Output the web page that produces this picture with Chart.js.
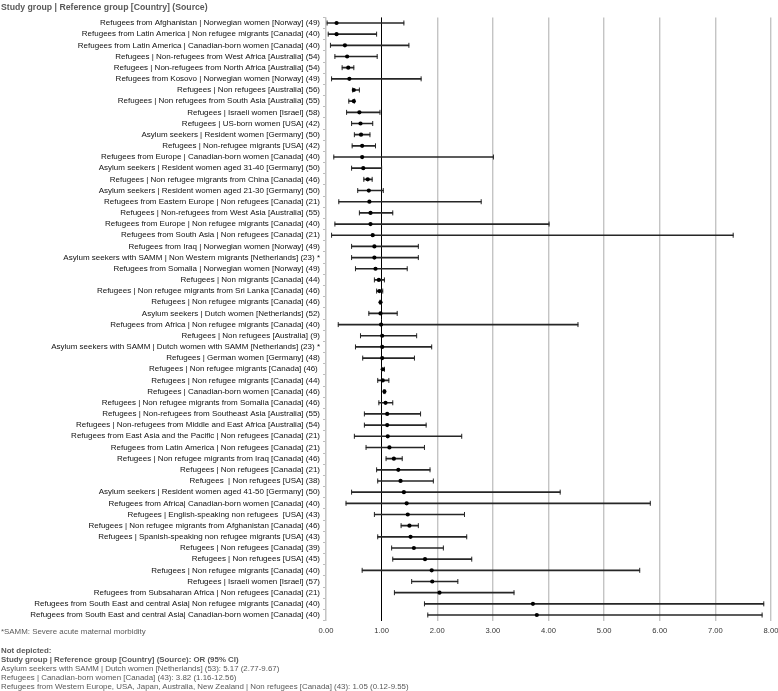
<!DOCTYPE html>
<html>
<head>
<meta charset="utf-8">
<script src="https://cdn.jsdelivr.net/npm/chart.js@4.4.1/dist/chart.umd.min.js"></script>
<style>
  body { margin: 0; background: #fff; width: 778px; height: 691px; overflow: hidden; position: relative; }
  #wrap { position: absolute; left: 0; top: 0; width: 778px; height: 642px; }
  .note { position: absolute; left: 1px; color: #595959; white-space: nowrap; font-size: 7.9px; line-height: 9px; }
  .b { font-weight: bold; }
</style>
</head>
<body>
<div id="wrap"><canvas id="forest" width="778" height="642"></canvas></div>
<div class="note b" id="title" style="top:3px;font-size:9px;">Study group | Reference group [Country] (Source)</div>
<div class="note" style="top:627px;">*SAMM: Severe acute maternal morbidity</div>
<div class="note" style="top:646px;">
  <div class="b">Not depicted:</div>
  <div class="b">Study group | Reference group [Country] (Source): OR (95% CI)</div>
  <div>Asylum seekers with SAMM | Dutch women [Netherlands] (53): 5.17 (2.77-9.67)</div>
  <div>Refugees | Canadian-born women [Canada] (43): 3.82 (1.16-12.56)</div>
  <div>Refugees from Western Europe, USA, Japan, Australia, New Zealand | Non refugees [Canada] (43): 1.05 (0.12-9.55)</div>
</div>
<script>
// rows, top to bottom
const studyLabels = [
  'Refugees from Afghanistan | Norwegian women [Norway] (49)',
  'Refugees from Latin America | Non refugee migrants [Canada] (40)',
  'Refugees from Latin America | Canadian-born women [Canada] (40)',
  'Refugees | Non-refugees from West Africa [Australia] (54)',
  'Refugees | Non-refugees from North Africa [Australia] (54)',
  'Refugees from Kosovo | Norwegian women [Norway] (49)',
  'Refugees | Non refugees [Australia] (56)',
  'Refugees | Non refugees from South Asia [Australia] (55)',
  'Refugees | Israeli women [Israel] (58)',
  'Refugees | US-born women [USA] (42)',
  'Asylum seekers | Resident women [Germany] (50)',
  'Refugees | Non-refugee migrants [USA] (42)',
  'Refugees from Europe | Canadian-born women [Canada] (40)',
  'Asylum seekers | Resident women aged 31-40 [Germany] (50)',
  'Refugees | Non refugee migrants from China [Canada] (46)',
  'Asylum seekers | Resident women aged 21-30 [Germany] (50)',
  'Refugees from Eastern Europe | Non refugees [Canada] (21)',
  'Refugees | Non-refugees from West Asia [Australia] (55)',
  'Refugees from Europe | Non refugee migrants [Canada] (40)',
  'Refugees from South Asia | Non refugees [Canada] (21)',
  'Refugees from Iraq | Norwegian women [Norway] (49)',
  'Asylum seekers with SAMM | Non Western migrants [Netherlands] (23) *',
  'Refugees from Somalia | Norwegian women [Norway] (49)',
  'Refugees | Non migrants [Canada] (44)',
  'Refugees | Non refugee migrants from Sri Lanka [Canada] (46)',
  'Refugees | Non refugee migrants [Canada] (46)',
  'Asylum seekers | Dutch women [Netherlands] (52)',
  'Refugees from Africa | Non refugee migrants [Canada] (40)',
  'Refugees | Non refugees [Australia] (9)',
  'Asylum seekers with SAMM | Dutch women with SAMM [Netherlands] (23) *',
  'Refugees | German women [Germany] (48)',
  'Refugees | Non refugee migrants [Canada] (46) ',
  'Refugees | Non refugee migrants [Canada] (44)',
  'Refugees | Canadian-born women [Canada] (46)',
  'Refugees | Non refugee migrants from Somalia [Canada] (46)',
  'Refugees | Non-refugees from Southeast Asia [Australia] (55)',
  'Refugees | Non-refugees from Middle and East Africa [Australia] (54)',
  'Refugees from East Asia and the Pacific | Non refugees [Canada] (21)',
  'Refugees from Latin America | Non refugees [Canada] (21)',
  'Refugees | Non refugee migrants from Iraq [Canada] (46)',
  'Refugees | Non refugees [Canada] (21)',
  'Refugees  | Non refugees [USA] (38)',
  'Asylum seekers | Resident women aged 41-50 [Germany] (50)',
  'Refugees from Africa| Canadian-born women [Canada] (40)',
  'Refugees | English-speaking non refugees  [USA] (43)',
  'Refugees | Non refugee migrants from Afghanistan [Canada] (46)',
  'Refugees | Spanish-speaking non refugee migrants [USA] (43)',
  'Refugees | Non refugees [Canada] (39)',
  'Refugees | Non refugees [USA] (45)',
  'Refugees | Non refugee migrants [Canada] (40)',
  'Refugees | Israeli women [Israel] (57)',
  'Refugees from Subsaharan Africa | Non refugees [Canada] (21)',
  'Refugees from South East and central Asia| Non refugee migrants [Canada] (40)',
  'Refugees from South East and central Asia| Canadian-born women [Canada] (40)'
];

const oddsRatio = [0.19, 0.19, 0.34, 0.38, 0.40, 0.42, 0.50, 0.50, 0.60, 0.62,
                   0.63, 0.65, 0.65, 0.67, 0.75, 0.77, 0.78, 0.80, 0.80, 0.84,
                   0.87, 0.87, 0.89, 0.95, 0.96, 0.98, 0.98, 0.99, 1.01, 1.01,
                   1.01, 1.02, 1.02, 1.05, 1.07, 1.10, 1.10, 1.11, 1.14, 1.22,
                   1.30, 1.34, 1.40, 1.45, 1.47, 1.50, 1.52, 1.58, 1.78, 1.90,
                   1.91, 2.04, 3.72, 3.79];
const ciLow = [0.02, 0.04, 0.08, 0.16, 0.29, 0.10, 0.48, 0.41, 0.37, 0.46,
               0.51, 0.47, 0.14, 0.46, 0.68, 0.57, 0.23, 0.60, 0.16, 0.10,
               0.46, 0.46, 0.53, 0.87, 0.91, 0.97, 0.77, 0.22, 0.62, 0.53,
               0.66, 1.00, 0.93, 1.04, 0.95, 0.69, 0.69, 0.51, 0.72, 1.08,
               0.91, 0.93, 0.46, 0.36, 0.87, 1.35, 0.93, 1.18, 1.20, 0.65,
               1.54, 1.23, 1.77, 1.83];
const ciHigh = [1.40, 0.91, 1.49, 0.92, 0.50, 1.71, 0.60, 0.51, 0.97, 0.84,
                0.79, 0.89, 3.01, 1.00, 0.83, 1.03, 2.79, 1.20, 4.01, 7.32,
                1.66, 1.66, 1.46, 1.05, 1.02, 0.99, 1.28, 4.53, 1.63, 1.90,
                1.59, 1.05, 1.13, 1.06, 1.20, 1.70, 1.80, 2.44, 1.77, 1.37,
                1.87, 1.93, 4.21, 5.83, 2.49, 1.66, 2.53, 2.11, 2.62, 5.64,
                2.37, 3.38, 7.87, 7.84];
const xTicks = [0, 1, 2, 3, 4, 5, 6, 7, 8];

// narrow font if the box has it, else plain Liberation Sans a bit smaller
function hasFont(name) {
    const c = document.createElement('canvas').getContext('2d');
    c.font = '20px monospace';
    const w = c.measureText('Refugees from Afghanistan').width;
    c.font = `20px "${name}", monospace`;
    return c.measureText('Refugees from Afghanistan').width !== w;
}
const narrow = hasFont('Liberation Sans Narrow');
const FAMILY = narrow ? '"Liberation Sans Narrow", "Liberation Sans", sans-serif' : '"Liberation Sans", Arial, sans-serif';
const LABEL_SIZE = narrow ? 9.6 : 8;
document.querySelectorAll('.note').forEach(el => el.style.fontFamily = FAMILY);
if (!narrow) document.getElementById('title').style.fontSize = '8.7px';

const toPoints = arr => arr.map((v, i) => ({ x: v, y: studyLabels[i] }));

new Chart(document.getElementById('forest'), {
    type: 'bar',
    data: {
        labels: studyLabels,
        datasets: [
            {
                type: 'scatter',
                data: toPoints(oddsRatio),
                pointStyle: 'circle',
                pointRadius: 2.1,
                backgroundColor: '#000',
                borderColor: '#000',
                borderWidth: 0
            },
            {
                type: 'scatter',
                data: toPoints(ciLow),
                pointStyle: 'line',
                rotation: 90,
                pointRadius: 2.5,
                borderColor: '#262626',
                borderWidth: 1
            },
            {
                type: 'scatter',
                data: toPoints(ciHigh),
                pointStyle: 'line',
                rotation: 90,
                pointRadius: 2.5,
                borderColor: '#262626',
                borderWidth: 1
            },
            {
                data: ciLow.map((lo, i) => [lo, ciHigh[i]]),
                backgroundColor: '#262626',
                borderWidth: 0,
                barThickness: 1
            }
        ]
    },
    options: {
        indexAxis: 'y',
        responsive: false,
        animation: false,
        events: [],
        layout: { padding: { top: 17.4, left: 0, right: 7, bottom: 0 } },
        plugins: { legend: { display: false }, tooltip: { enabled: false } },
        scales: {
            x: {
                type: 'linear',
                min: 0,
                max: 8,
                afterBuildTicks: s => { s.ticks = xTicks.map(v => ({ value: v })); },
                afterFit: s => { s.height = 21.4; s.paddingRight = 0; },
                border: { display: false },
                grid: {
                    drawTicks: false,
                    color: c => c.tick && c.tick.value === 1 ? '#000' : '#c4c4c4',
                    lineWidth: c => c.tick && c.tick.value === 1 ? 1 : 1.4
                },
                ticks: {
                    padding: 6,
                    color: '#333',
                    font: { family: FAMILY, size: narrow ? 8.6 : 7.6 },
                    callback: v => v.toFixed(2)
                }
            },
            y: {
                type: 'category',
                afterFit: s => { s.width = 326; },
                border: { display: true, color: '#c4c4c4', width: 1.2 },
                grid: { drawOnChartArea: false, tickLength: 3, color: '#bdbdbd' },
                ticks: {
                    autoSkip: false,
                    padding: 3,
                    color: '#111',
                    font: { family: FAMILY, size: LABEL_SIZE }
                }
            }
        }
    }
});
</script>
</body>
</html>
